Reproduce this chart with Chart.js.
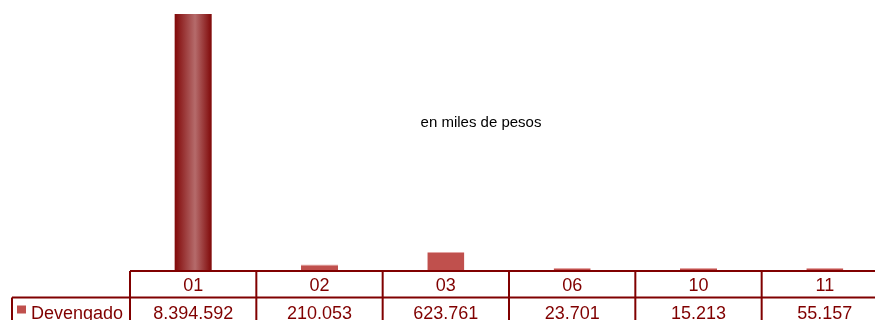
<!DOCTYPE html>
<html>
<head>
<meta charset="utf-8">
<script src="https://cdn.jsdelivr.net/npm/chart.js@4"></script>
<style>
  html, body { margin: 0; padding: 0; overflow: hidden; background: #ffffff; }
  #wrap { width: 890px; height: 320px; }
</style>
</head>
<body>
<div id="wrap"><canvas id="chart" width="890" height="320"></canvas></div>
<script>
// categorías y valores devengados (miles de pesos)
const categorias = ['01', '02', '03', '06', '10', '11'];
const devengado = [8394592, 210053, 623761, 23701, 15213, 55157];
const etiquetasValor = ['8.394.592', '210.053', '623.761', '23.701', '15.213', '55.157'];
const nombreSerie = 'Devengado';

const granate = '#800000';
const rojoBarra = '#C0504D';

// tabla de datos debajo del gráfico
const tablaDatos = {
  id: 'tablaDatos',
  afterDraw(chart) {
    const ctx = chart.ctx;
    const area = chart.chartArea;
    const x = chart.scales.x;
    const ancho = (area.right - area.left) / categorias.length;
    const fila1 = area.bottom;
    const fila2 = fila1 + 26.5;
    const fila3 = fila2 + 26.5;

    ctx.save();
    ctx.strokeStyle = granate;
    ctx.lineWidth = 2;

    // líneas horizontales
    ctx.beginPath();
    ctx.moveTo(area.left, fila1);
    ctx.lineTo(area.right, fila1);
    ctx.moveTo(12, fila2);
    ctx.lineTo(area.right, fila2);
    ctx.moveTo(12, fila3);
    ctx.lineTo(area.right, fila3);
    // líneas verticales
    ctx.moveTo(12, fila2);
    ctx.lineTo(12, fila3);
    for (let i = 0; i <= categorias.length; i++) {
      const xi = area.left + i * ancho;
      ctx.moveTo(xi, fila1);
      ctx.lineTo(xi, fila3);
    }
    ctx.stroke();

    ctx.fillStyle = granate;
    ctx.font = '18px "Liberation Sans", Arial, sans-serif';
    ctx.textAlign = 'center';
    ctx.textBaseline = 'middle';
    categorias.forEach((c, i) => {
      const cx = x.getPixelForValue(i);
      ctx.fillText(c, cx, fila1 + 15.5);
      ctx.fillText(etiquetasValor[i], cx, fila2 + 16.5);
    });

    // leyenda de la serie
    ctx.fillStyle = rojoBarra;
    ctx.fillRect(17, fila2 + 8, 9, 8);
    ctx.fillStyle = granate;
    ctx.textAlign = 'left';
    ctx.fillText(nombreSerie, 31, fila2 + 16.5);
    ctx.restore();
  }
};

// texto de unidades
const textoUnidades = {
  id: 'textoUnidades',
  afterDraw(chart) {
    const ctx = chart.ctx;
    ctx.save();
    ctx.fillStyle = '#000000';
    ctx.font = '15px "Liberation Sans", Arial, sans-serif';
    ctx.textAlign = 'center';
    ctx.textBaseline = 'middle';
    ctx.fillText('en miles de pesos', 481, 123);
    ctx.restore();
  }
};

function colorBarra(context) {
  if (context.dataIndex !== 0) return rojoBarra;
  const chart = context.chart;
  const x = chart.scales.x;
  if (!x || x.left === undefined) return '#8A0C0C';
  const cx = x.getPixelForValue(0);
  const g = chart.ctx.createLinearGradient(cx - 19, 0, cx + 19, 0);
  g.addColorStop(0, '#800606');
  g.addColorStop(0.55, '#B56B6B');
  g.addColorStop(1, '#7E0505');
  return g;
}

new Chart(document.getElementById('chart'), {
  type: 'bar',
  data: {
    labels: categorias,
    datasets: [{
      label: nombreSerie,
      data: devengado,
      backgroundColor: colorBarra,
      borderColor: '#E3A3A2',
      borderWidth: (c) => (c.dataIndex === 0 ? 0 : { top: 1, left: 0, right: 0, bottom: 0 }),
      borderSkipped: 'bottom',
      minBarLength: 3,
      categoryPercentage: 0.293,
      barPercentage: 1
    }]
  },
  options: {
    responsive: false,
    animation: false,
    layout: { padding: { left: 130, right: 2, top: 0, bottom: 49 } },
    plugins: {
      legend: { display: false },
      tooltip: { enabled: false }
    },
    scales: {
      x: { display: false },
      y: { display: false, min: 0, max: 8855000 }
    }
  },
  plugins: [tablaDatos, textoUnidades]
});
</script>
</body>
</html>
